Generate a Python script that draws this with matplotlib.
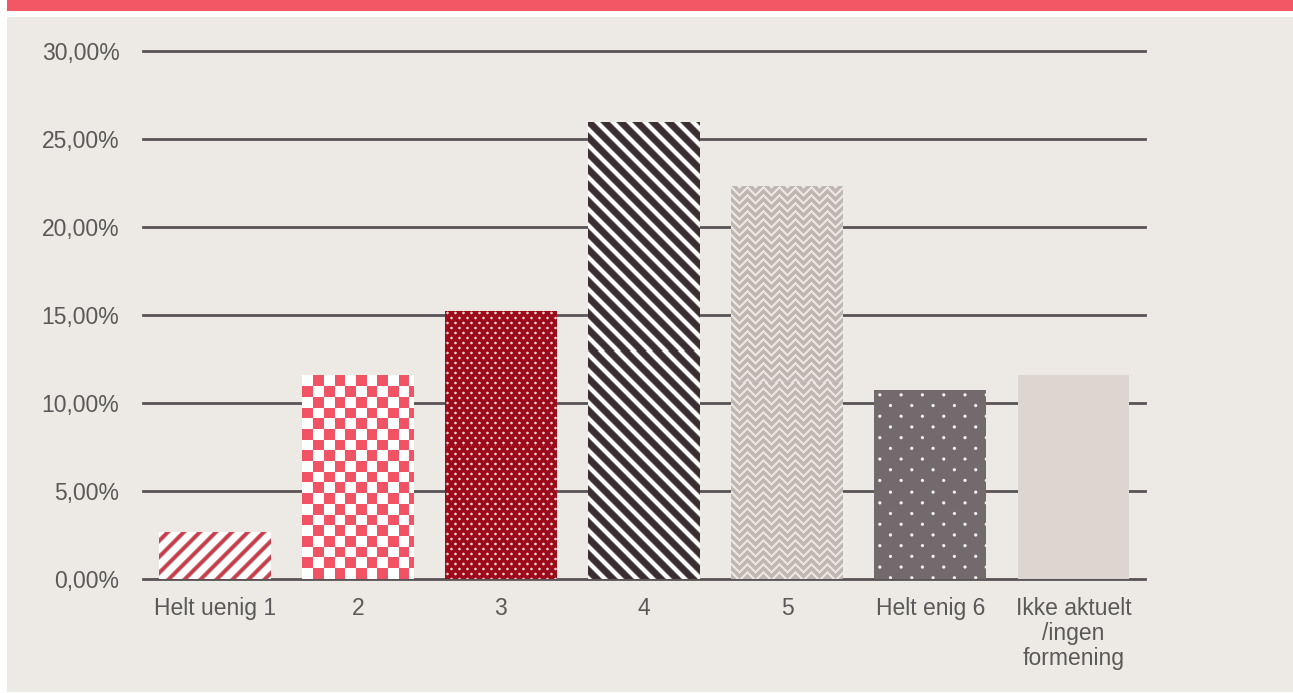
import numpy as np
import matplotlib
matplotlib.use("Agg")
import matplotlib.pyplot as plt
from matplotlib.patches import Rectangle
from matplotlib.colors import to_rgb

# ---- data ----
categories = ["Helt uenig 1", "2", "3", "4", "5", "Helt enig 6", "Ikke aktuelt\n/ingen\nformening"]
values = [2.67, 11.57, 15.23, 25.97, 22.33, 10.74, 11.59]
yticks = [0, 5, 10, 15, 20, 25, 30]
ytick_labels = ["0,00%", "5,00%", "10,00%", "15,00%", "20,00%", "25,00%", "30,00%"]

W, H = 1293, 693
fig = plt.figure(figsize=(W / 100, H / 100), dpi=100)
fig.patch.set_facecolor("white")
plt.rcParams['font.family'] = ['Liberation Sans', 'DejaVu Sans']

# banner and panel
fig.patches.append(Rectangle((7 / W, 1 - 11 / H), 1 - 7 / W, 11 / H, transform=fig.transFigure,
                             facecolor="#f25766", edgecolor="none", zorder=-10))
fig.patches.append(Rectangle((7 / W, 1 / H), 1 - 7 / W, (692 - 17) / H, transform=fig.transFigure,
                             facecolor="#edeae5", edgecolor="none", zorder=-10))

ax = fig.add_axes([143 / W, (H - 579) / H, (1145 - 143) / W, (579 - 51) / H])
ax.set_zorder(5)
ax.set_facecolor("none")
ax.set_xlim(-0.5, len(categories) - 0.5)
ax.set_ylim(0, 30)

text_color = "#595959"
grid_color = "#5a5356"
for t in yticks:
    ax.axhline(t, color=grid_color, lw=2.0, zorder=1, clip_on=False)

for s in ax.spines.values():
    s.set_visible(False)
ax.set_yticks(yticks)
ax.set_yticklabels(ytick_labels)
ax.set_xticks(range(len(categories)))
ax.set_xticklabels(categories, linespacing=1.1)
ax.tick_params(axis="both", length=0, colors=text_color, labelsize=16.5)
ax.tick_params(axis="y", pad=17)
ax.tick_params(axis="x", pad=13)

bar_w = 0.78
base_colors = ["#ffffff", "#ffffff", "#9c0b1a", "#3b2e33", "#c0b6b2", "#736a6d", "#ddd6d0"]
bars = ax.bar(range(len(categories)), values, width=bar_w, color=base_colors, edgecolor="none", zorder=3)


def mix(bg, fg, a):
    bg = np.array(to_rgb(bg)); fg = np.array(to_rgb(fg))
    return bg[None, None, :] * (1 - a[..., None]) + fg[None, None, :] * a[..., None]


def stripes(I, J, period, hw, sign):
    d = J + sign * I
    r = np.mod(d, period)
    dist = np.abs(r - period / 2) / np.sqrt(2)
    return np.clip(hw + 0.8 - dist, 0, 1.6) / 1.6


def lat(I, J, dx, dy, ox, oy):
    u = np.mod(J - ox, dx); u = np.minimum(u, dx - u)
    v = np.mod(I - oy, dy); v = np.minimum(v, dy - v)
    return np.sqrt(u ** 2 + v ** 2)


def dots(I, J, dx, dy, rad):
    d = np.minimum(lat(I, J, dx, 2 * dy, dx / 4, dy / 2), lat(I, J, dx, 2 * dy, 3 * dx / 4, 3 * dy / 2))
    return np.clip(rad + 0.5 - d, 0, 1)


def texture(k, h, w):
    I, J = np.mgrid[0:h, 0:w].astype(float)
    if k == 0:
        return mix("#ffffff", "#c63e4b", stripes(I, J, 16, 2.0, 1))
    if k == 1:
        c = 10.7
        a = (np.mod(np.floor(I / c) + np.floor(J / c), 2)).astype(float)
        return mix("#ffffff", "#f05464", a)
    if k == 2:
        return mix("#9c0b1a", "#f3d0d3", dots(I, J, 8, 5, 1.3))
    if k == 3:
        return mix("#3b2e33", "#ffffff", stripes(I, J, 16, 2.2, -1))
    if k == 4:
        P, Q = 16, 8
        val = np.mod(I + np.abs(np.mod(J, P) - P / 2), Q)
        a = np.clip(2.0 - np.abs(val - 1.8), 0, 1)
        return mix("#c0b6b2", "#ece7e3", a)
    if k == 5:
        return mix("#736a6d", "#f4f0f0", dots(I, J, 21.3, 10.7, 1.6))
    return None


for k, b in enumerate(bars):
    x0, y0 = b.get_x(), b.get_y()
    x1, y1 = x0 + b.get_width(), y0 + b.get_height()
    p0 = ax.transData.transform((x0, y0))
    p1 = ax.transData.transform((x1, y1))
    w = max(1, int(round(abs(p1[0] - p0[0]))))
    h = max(1, int(round(abs(p1[1] - p0[1]))))
    tex = texture(k, h, w)
    if tex is None:
        continue
    im = ax.imshow(tex, extent=(x0, x1, y0, y1), origin="upper", aspect="auto",
                   interpolation="nearest", zorder=4)
    im.set_clip_path(b)

ax.set_xlim(-0.5, len(categories) - 0.5)
ax.set_ylim(0, 30)

fig.savefig("out.png", dpi=100, facecolor=fig.get_facecolor())
